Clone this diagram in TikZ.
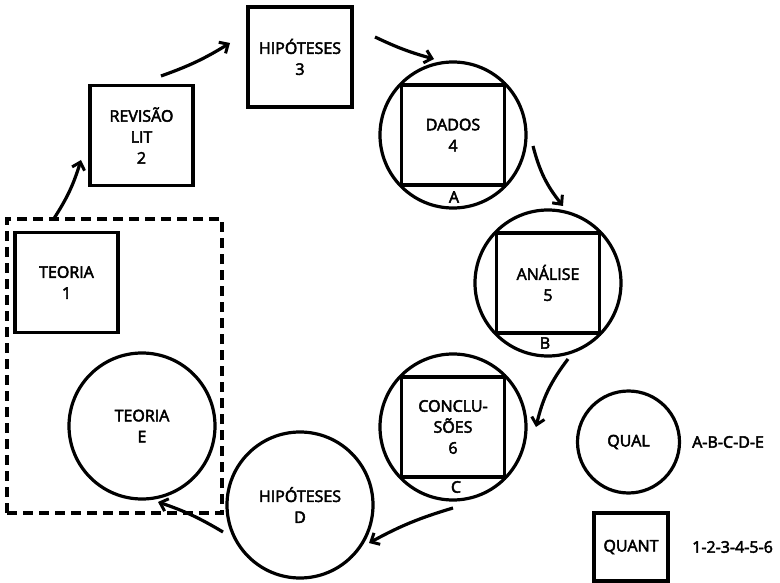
\documentclass[tikz,border=0pt]{standalone}
\usepackage{fontspec}
\setmainfont{Open Sans}
\newfontfamily\lblfont{Open Sans}[FakeBold=3]
\usetikzlibrary{arrows.meta,shapes.geometric}
\tikzset{
  lbl/.style={font=\lblfont\fontsize{16}{21}\selectfont, align=center, text=black},
  qbox/.style={draw, line width=3.4pt, rectangle, minimum width=103pt, minimum height=100pt, inner sep=0pt, lbl},
  qcirc/.style={draw, line width=3.2pt, circle, minimum size=146pt, inner sep=0pt, lbl},
  letter/.style={lbl, inner sep=0pt},
  arr/.style={line width=3.2pt, -{Straight Barb[length=7pt,width=13pt,line width=3pt]}},
  grp/.style={draw, line width=3.4pt, dash pattern=on 10pt off 6pt}
}
\begin{document}
\begin{tikzpicture}[x=1pt,y=-1pt]
\useasboundingbox (0,0) rectangle (780,583);
% dashed group
\node[grp, minimum width=215pt, minimum height=294pt, inner sep=0pt] (grp) at (114.5,366) {};
% theory boxes
\node[qbox] (n1) at (66.5,282.5) {TEORIA\\1};
\node[qcirc] (nE) at (142,426) {TEORIA\\E};
\node[qbox] (n2) at (141.5,135.5) {REVISÃO\\LIT\\2};
\node[qbox, minimum width=104pt] (n3) at (300,57) {HIPÓTESES\\3};
% mixed nodes
\node[qcirc] (c4) at (453,135) {};
\node[qbox] (n4) at (c4.center) {DADOS\\4};
\node[letter] (lA) at (454,197) {A};
\node[qcirc] (c5) at (548,283) {};
\node[qbox] (n5) at (c5.center) {ANÁLISE\\5};
\node[letter] (lB) at (545,343) {B};
\node[qcirc] (c6) at (453,427) {};
\node[qbox] (n6) at (c6.center) {CONCLU-\\SÕES\\6};
\node[letter] (lC) at (456,487) {C};
\node[qcirc] (nD) at (300,505) {HIPÓTESES\\D};
% legend
\node[draw, line width=3.2pt, circle, minimum size=102pt, inner sep=0pt, lbl] (qual) at (628.5,442) {QUAL};
\node[lbl, anchor=west, inner sep=0pt] (qualt) at (692,442) {A-B-C-D-E};
\node[draw, line width=3.4pt, rectangle, minimum width=74pt, minimum height=68pt, inner sep=0pt, lbl] (quant) at (631,547) {QUANT};
\node[lbl, anchor=west, inner sep=0pt] (quantt) at (692,547) {1-2-3-4-5-6};
% connector endpoints
\coordinate (a1s) at (53,220);   \coordinate (a1e) at (81,160);
\coordinate (a2s) at (161,76);   \coordinate (a2e) at (230,43);
\coordinate (a3s) at (375,37);   \coordinate (a3e) at (434,59);
\coordinate (a4s) at (533,146);  \coordinate (a4e) at (563,206);
\coordinate (a5s) at (568,359);  \coordinate (a5e) at (536,427);
\coordinate (a6s) at (453,508);  \coordinate (a6e) at (369,543);
\coordinate (a7s) at (223,532);  \coordinate (a7e) at (158,502);
\draw[arr] (a1s) to[bend right=8] (a1e);
\draw[arr] (a2s) to[bend right=6] (a2e);
\draw[arr] (a3s) to[bend right=5] (a3e);
\draw[arr] (a4s) to[bend right=12] (a4e);
\draw[arr] (a5s) to[bend right=12] (a5e);
\draw[arr] (a6s) to[bend right=6] (a6e);
\draw[arr] (a7s) to[bend right=6] (a7e);
\end{tikzpicture}
\end{document}
